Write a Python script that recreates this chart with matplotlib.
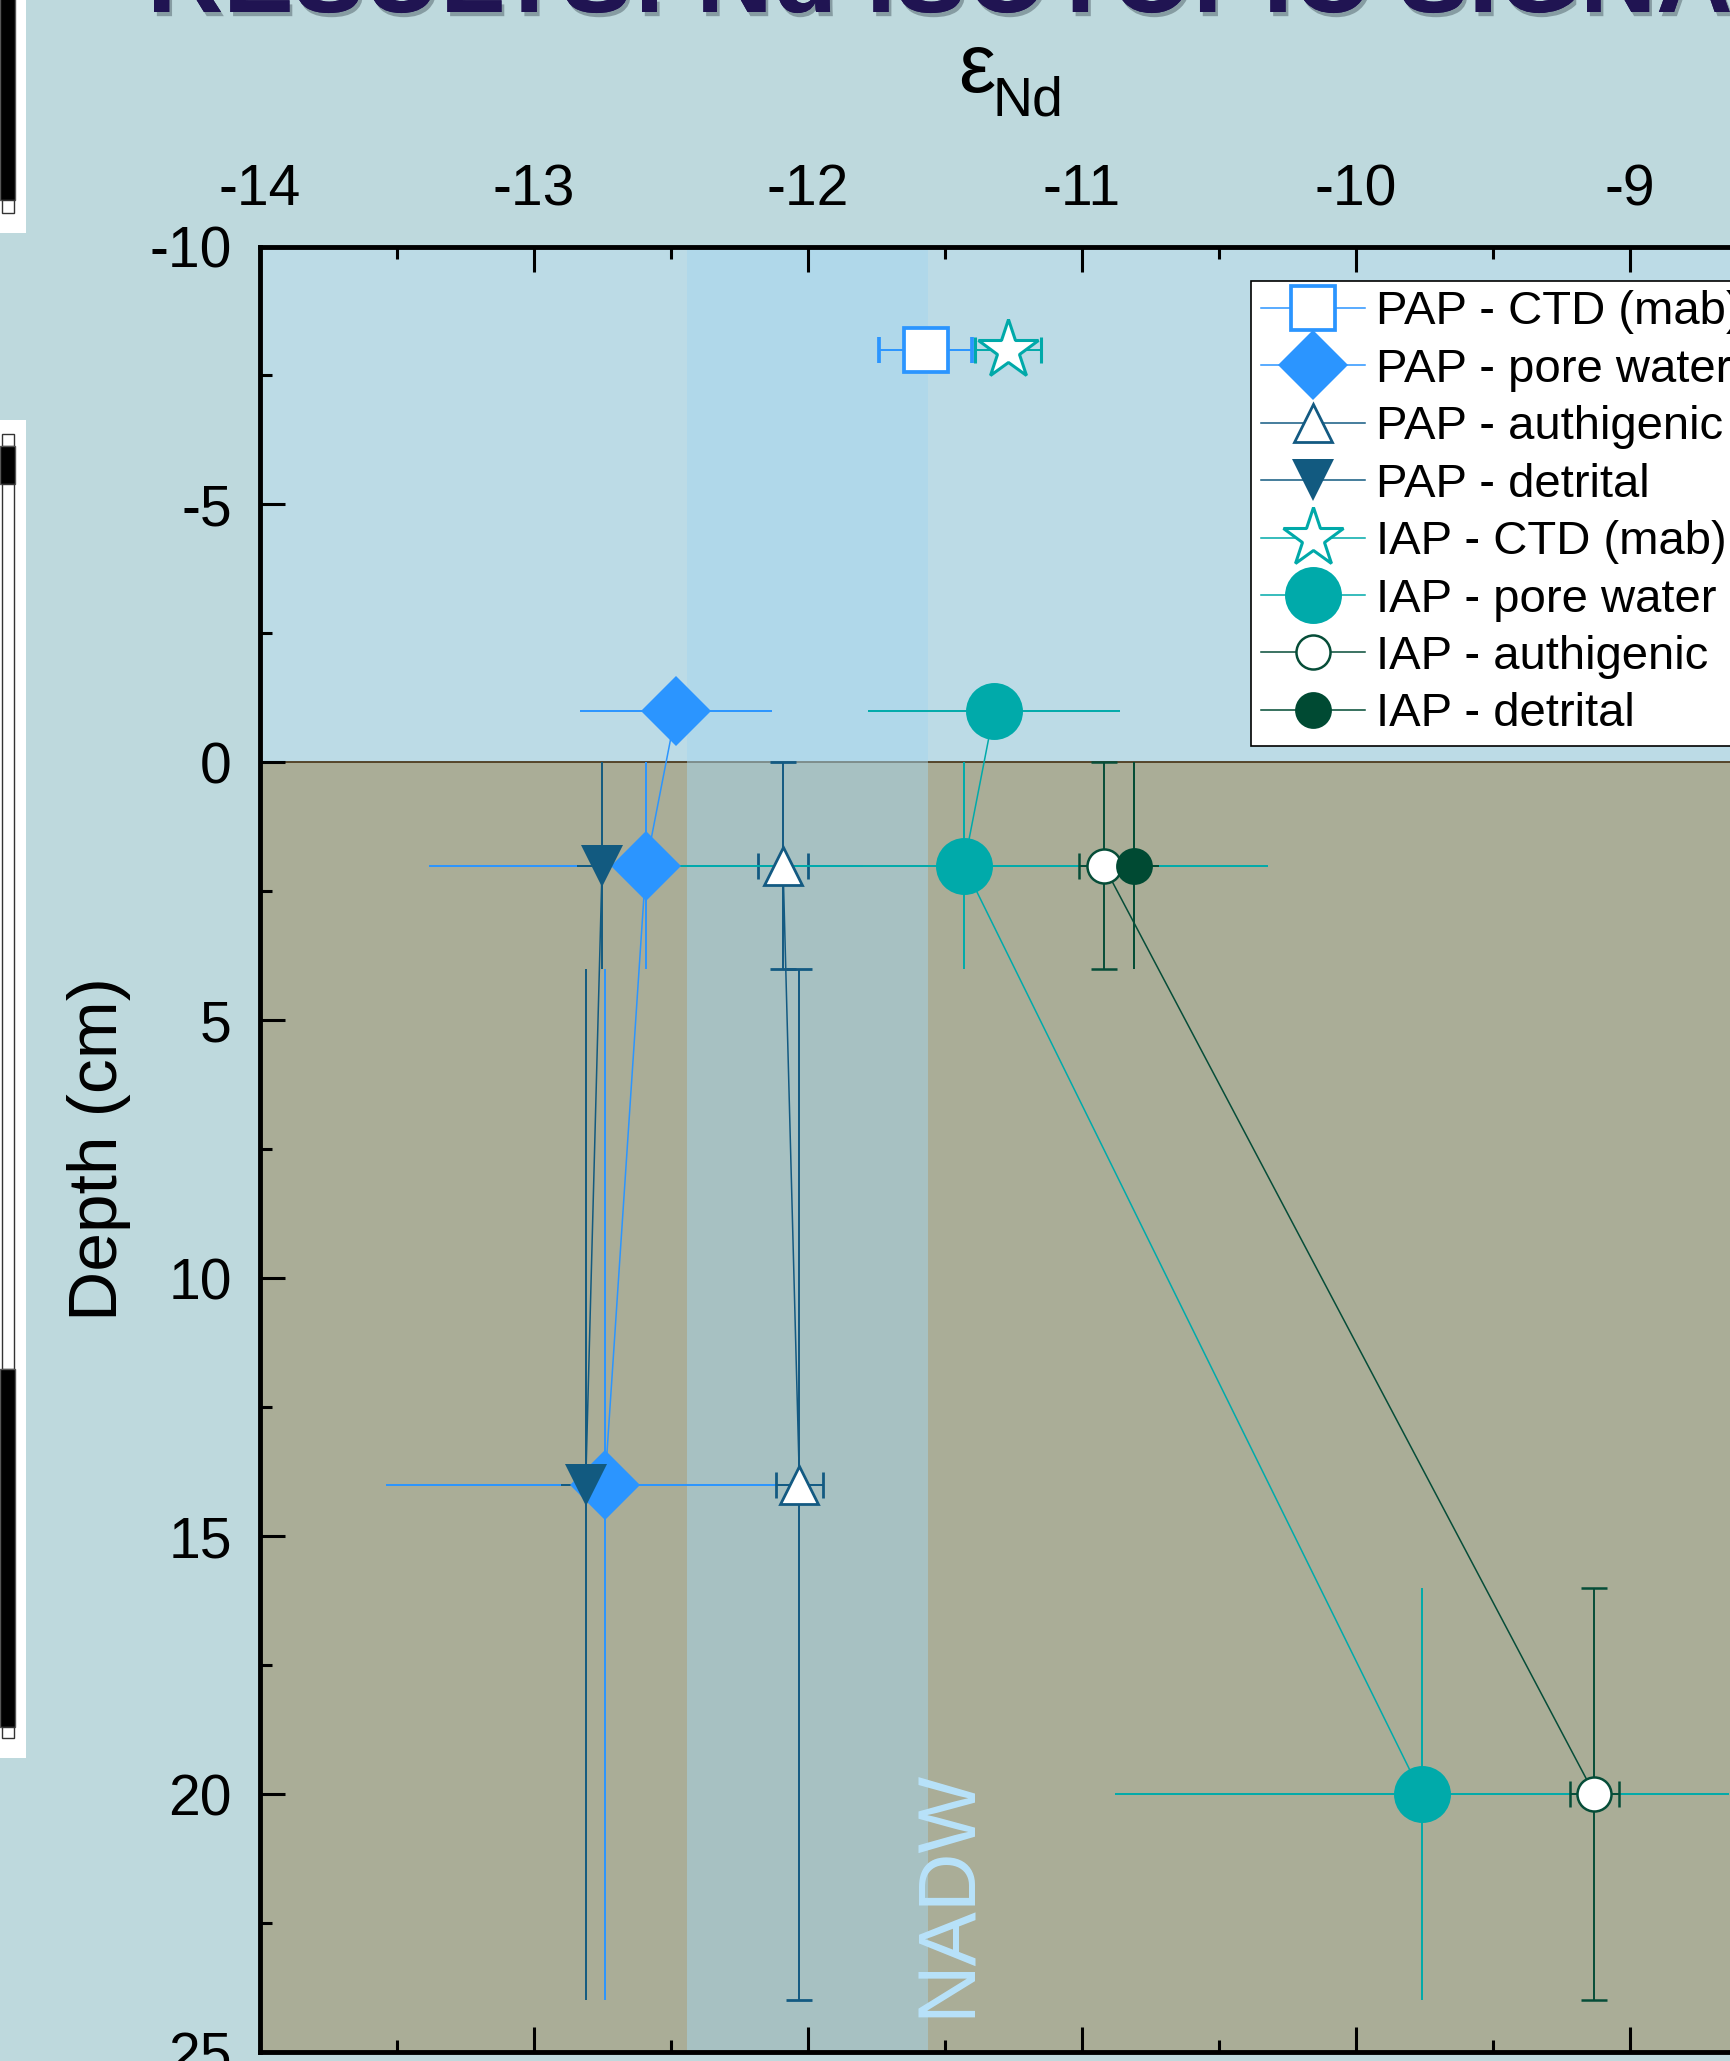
import matplotlib.pyplot as plt
import matplotlib.patheffects as pe
from matplotlib.lines import Line2D
from matplotlib.patches import Rectangle
from matplotlib.ticker import MultipleLocator

plt.rcParams['font.family'] = ['Liberation Sans', 'DejaVu Sans']
plt.rcParams['axes.unicode_minus'] = False

# eps Nd values, depth (cm) and errors
pap_ctd_eps = [-11.57]
pap_ctd_depth = [-8]
pap_ctd_xerr = [0.17]
pap_ctd_yerr = [0]

pap_pw_eps = [-12.48, -12.59, -12.74]
pap_pw_depth = [-1, 2, 14]
pap_pw_xerr = [0.35, 0.79, 0.80]
pap_pw_yerr = [0, 2, 10]

pap_auth_eps = [-12.09, -12.03]
pap_auth_depth = [2, 14]
pap_auth_xerr = [0.09, 0.085]
pap_auth_yerr = [2, 10]

pap_det_eps = [-12.75, -12.81]
pap_det_depth = [2, 14]
pap_det_xerr = [0.09, 0.09]
pap_det_yerr = [2, 10]

iap_ctd_eps = [-11.27]
iap_ctd_depth = [-8]
iap_ctd_xerr = [0.12]
iap_ctd_yerr = [0]

iap_pw_eps = [-11.32, -11.43, -9.76]
iap_pw_depth = [-1, 2, 20]
iap_pw_xerr = [0.46, 1.11, 1.12]
iap_pw_yerr = [0, 2, 4]

iap_auth_eps = [-10.92, -9.13]
iap_auth_depth = [2, 20]
iap_auth_xerr = [0.09, 0.09]
iap_auth_yerr = [2, 4]

iap_det_eps = [-10.81]
iap_det_depth = [2]
iap_det_xerr = [0.09]
iap_det_yerr = [2]

# NADW range
nadw_min = -12.44
nadw_max = -11.56

labels = ["PAP - CTD (mab)", "PAP - pore water", "PAP - authigenic", "PAP - detrital",
          "IAP - CTD (mab)", "IAP - pore water", "IAP - authigenic", "IAP - detrital"]

# colour, marker, size, face, edge width
styles = [
    ('#2b95ff', 's', 32, 'white', 2.7),
    ('#2b95ff', 'D', 36, '#2b95ff', 0),
    ('#135a82', '^', 28, 'white', 2.0),
    ('#125a80', 'v', 30, '#125a80', 0),
    ('#00a9a9', '*', 45, 'white', 2.2),
    ('#00aaaa', 'o', 41, '#00aaaa', 0),
    ('#064d38', 'o', 24.5, 'white', 1.8),
    ('#004a33', 'o', 26.5, '#004a33', 0),
]

series = [
    (pap_ctd_eps, pap_ctd_depth, pap_ctd_xerr, pap_ctd_yerr),
    (pap_pw_eps, pap_pw_depth, pap_pw_xerr, pap_pw_yerr),
    (pap_auth_eps, pap_auth_depth, pap_auth_xerr, pap_auth_yerr),
    (pap_det_eps, pap_det_depth, pap_det_xerr, pap_det_yerr),
    (iap_ctd_eps, iap_ctd_depth, iap_ctd_xerr, iap_ctd_yerr),
    (iap_pw_eps, iap_pw_depth, iap_pw_xerr, iap_pw_yerr),
    (iap_auth_eps, iap_auth_depth, iap_auth_xerr, iap_auth_yerr),
    (iap_det_eps, iap_det_depth, iap_det_xerr, iap_det_yerr),
]

W, H = 1730, 2061
fig = plt.figure(figsize=(W / 100, H / 100), dpi=100, facecolor='#bed9dd')
ax = fig.add_axes([259.5 / W, (H - 2052) / H, 274.1 * 5.5 / W, (2052 - 246.5) / H])
ax.set_xlim(-14, -8.5)
ax.set_ylim(25, -10)

# water / sediment background
ax.set_facecolor('#bcdbe6')
ax.axhspan(0, 25, color='#aaad97', lw=0, zorder=0.5)
ax.axhline(0, color='#4d3b1f', lw=1.3, zorder=0.6)
ax.axvspan(nadw_min, nadw_max, color='#a6d6ee', alpha=0.5, lw=0, zorder=0.7)
ax.text(-11.485, 24.33, 'NADW', rotation=90, ha='center', va='bottom',
        fontsize=58.5, color='#b8e2fa', zorder=0.8)

handles = []
for (x, d, xe, ye), (c, m, ms, fc, mew) in zip(series, styles):
    ax.errorbar(x, d, xerr=xe, yerr=ye, color=c, lw=1.1, elinewidth=1.4,
                capsize=9.5, capthick=1.4, marker=m, ms=ms, mfc=fc, mec=c,
                mew=mew, zorder=3)
    handles.append(Line2D([], [], color=c, lw=1.1, marker=m, ms=ms, mfc=fc,
                          mec=c, mew=mew))

leg = ax.legend(handles, labels, loc='upper left', bbox_to_anchor=(0.658, 0.981),
                borderaxespad=0, fontsize=34, frameon=True, fancybox=False,
                edgecolor='black', facecolor='white', framealpha=1,
                handlelength=2.2, handletextpad=0.24, labelspacing=0.285,
                borderpad=0.2)
leg.get_frame().set_linewidth(1.2)

ax.xaxis.set_major_locator(MultipleLocator(1))
ax.xaxis.set_minor_locator(MultipleLocator(0.5))
ax.yaxis.set_major_locator(MultipleLocator(5))
ax.yaxis.set_minor_locator(MultipleLocator(2.5))
ax.tick_params(which='both', direction='in', top=True, bottom=True, left=True,
               right=True, labeltop=True, labelbottom=False, width=2.2,
               labelsize=41)
ax.tick_params(which='major', length=18)
ax.tick_params(which='minor', length=8.5)
ax.tick_params(axis='x', pad=21)
ax.tick_params(axis='y', pad=20)
for s in ax.spines.values():
    s.set_linewidth(3.5)

ax.set_ylabel('Depth (cm)', fontsize=50, labelpad=13)

# x axis title: epsilon with Nd subscript
fig.text(977 / W, 1 - 92 / H, '\u03b5', fontsize=60, ha='center', va='baseline')
fig.text(993 / W, 1 - 116 / H, 'Nd', fontsize=40, ha='left', va='baseline')

# neighbouring poster panels on the left edge
def box(x, y, w, h, **kw):
    fig.add_artist(Rectangle((x / W, 1 - (y + h) / H), w / W, h / H,
                             transform=fig.transFigure, **kw))

box(0, 0, 26, 233, color='white', lw=0)
box(0, -5, 15, 205, facecolor='black', edgecolor='#555555', lw=1)
box(2, 200, 12, 13, facecolor='white', edgecolor='#333333', lw=1)
box(0, 420, 26, 1338, color='white', lw=0)
box(2, 434, 12, 12, facecolor='white', edgecolor='#333333', lw=1)
box(0, 446, 15, 38, facecolor='black', edgecolor='#555555', lw=1)
box(2, 484, 12, 885, facecolor='white', edgecolor='#333333', lw=1)
box(0, 1369, 15, 358, facecolor='black', edgecolor='#555555', lw=1)
box(2, 1727, 12, 11, facecolor='white', edgecolor='#333333', lw=1)

# poster heading, mostly cut off at the top
fig.text(147 / W, 1 - 12 / H, 'RESULTS: Nd ISOTOPIC SIGNATURES', fontsize=76,
         fontweight='bold', color='#201452', va='baseline', ha='left',
         path_effects=[pe.withSimplePatchShadow(offset=(2, -3),
                                                shadow_rgbFace='#506068',
                                                alpha=0.5), pe.Normal()])

fig.savefig('out.png', dpi=100, facecolor=fig.get_facecolor())
